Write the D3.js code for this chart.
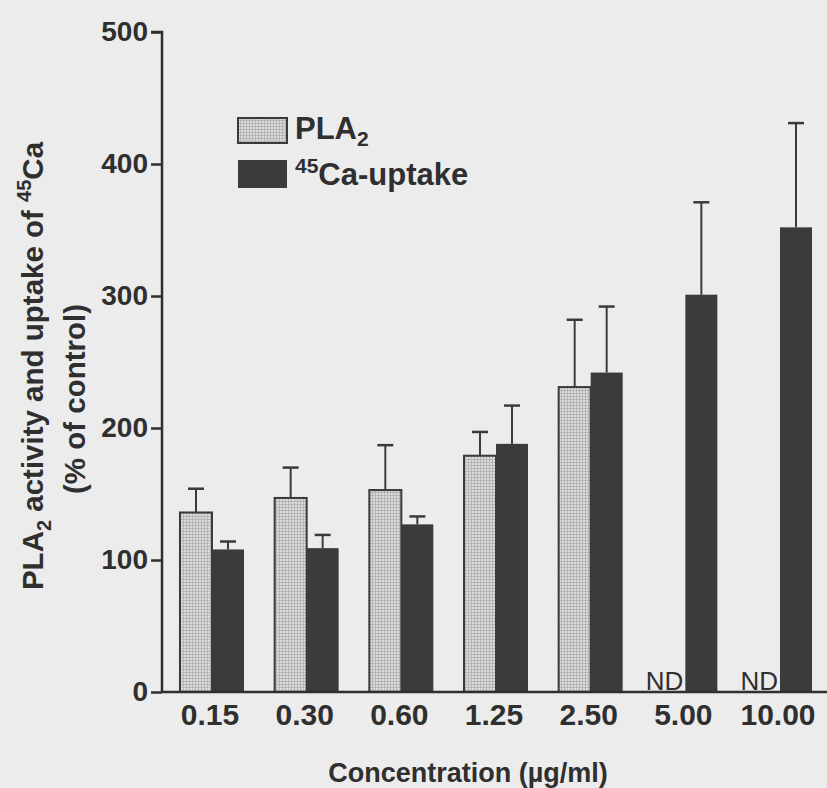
<!DOCTYPE html>
<html>
<head>
<meta charset="utf-8">
<script src="https://cdn.jsdelivr.net/npm/d3@7"></script>
<style>
  html, body { margin: 0; padding: 0; background: #ececec; }
  svg { display: block; }
  text { font-family: "Liberation Sans", Arial, Helvetica, sans-serif; fill: #2f2f2f; }
</style>
</head>
<body>
<svg id="chart" width="827" height="788"></svg>
<script>
// Concentrations (µg/ml) on the x axis
const concentrations = ["0.15", "0.30", "0.60", "1.25", "2.50", "5.00", "10.00"];
// PLA2 activity, % of control (null = not determined)
const pla2Values = [136, 147, 153, 179, 231, null, null];
const pla2Errors = [18, 23, 34, 18, 51, null, null];
// 45Ca uptake, % of control
const caValues = [108, 109, 127, 188, 242, 301, 352];
const caErrors = [6, 10, 6, 29, 50, 70, 79];
// y-axis ticks
const yTicks = [0, 100, 200, 300, 400, 500];

const svg = d3.select("#chart");
const ink = "#2f2f2f";

const defs = svg.append("defs");
const pat = defs.append("pattern")
  .attr("id", "grid").attr("patternUnits", "userSpaceOnUse")
  .attr("width", 3).attr("height", 3);
pat.append("rect").attr("width", 3).attr("height", 3).attr("fill", "#dcdcdc");
pat.append("rect").attr("width", 3).attr("height", 1).attr("fill", "#b4b4b4");
pat.append("rect").attr("width", 1).attr("height", 3).attr("fill", "#b4b4b4");

const x0 = 162, y0 = 692;
const x = d3.scaleBand().domain(concentrations).range([x0, 830])
  .paddingInner(0.324).paddingOuter(0.19);
const sub = d3.scaleBand().domain(["pla2", "ca"]).range([0, x.bandwidth()]);
const y = d3.scaleLinear().domain([0, 500]).range([y0, 32]);

const rows = concentrations.map((c, i) => ({
  c, pla2: pla2Values[i], pla2e: pla2Errors[i], ca: caValues[i], cae: caErrors[i]
}));

// Bars with upward error bars
const g = svg.append("g");
rows.forEach(r => {
  const gx = x(r.c);
  if (r.pla2 != null) {
    const cx = gx + sub("pla2") + sub.bandwidth() / 2;
    g.append("line").attr("x1", cx).attr("x2", cx)
      .attr("y1", y(r.pla2)).attr("y2", y(r.pla2 + r.pla2e))
      .attr("stroke", "#3a3a3a").attr("stroke-width", 2);
    g.append("line").attr("x1", cx - 8).attr("x2", cx + 8)
      .attr("y1", y(r.pla2 + r.pla2e)).attr("y2", y(r.pla2 + r.pla2e))
      .attr("stroke", "#3a3a3a").attr("stroke-width", 2.5);
    g.append("rect")
      .attr("x", gx + sub("pla2")).attr("y", y(r.pla2))
      .attr("width", sub.bandwidth()).attr("height", y0 - y(r.pla2))
      .attr("fill", "url(#grid)").attr("stroke", "#3a3a3a").attr("stroke-width", 2);
  } else {
    g.append("text")
      .attr("x", gx + sub("pla2") + sub.bandwidth() - 2).attr("y", y0 - 2)
      .attr("text-anchor", "end").attr("font-size", 26)
      .text("ND");
  }
  const cx2 = gx + sub("ca") + sub.bandwidth() / 2;
  g.append("line").attr("x1", cx2).attr("x2", cx2)
    .attr("y1", y(r.ca)).attr("y2", y(r.ca + r.cae))
    .attr("stroke", "#3a3a3a").attr("stroke-width", 2);
  g.append("line").attr("x1", cx2 - 8).attr("x2", cx2 + 8)
    .attr("y1", y(r.ca + r.cae)).attr("y2", y(r.ca + r.cae))
    .attr("stroke", "#3a3a3a").attr("stroke-width", 2.5);
  g.append("rect")
    .attr("x", gx + sub("ca")).attr("y", y(r.ca))
    .attr("width", sub.bandwidth()).attr("height", y0 - y(r.ca))
    .attr("fill", "#3b3b3b");
});

// Y axis
const yAxis = svg.append("g").attr("transform", `translate(${x0},0)`)
  .call(d3.axisLeft(y).tickValues(yTicks).tickSize(11).tickPadding(3).tickFormat(d3.format("d")));
yAxis.select(".domain").attr("stroke", ink).attr("stroke-width", 2.5)
  .attr("d", `M-11,${y(500)}H0V${y0}`);
yAxis.selectAll(".tick line").attr("stroke", ink).attr("stroke-width", 2.5);
yAxis.selectAll(".tick text").attr("font-size", 28).attr("font-weight", "bold")
  .attr("fill", ink).attr("font-family", "Liberation Sans, Arial, sans-serif");

// X axis
const xAxis = svg.append("g").attr("transform", `translate(0,${y0})`)
  .call(d3.axisBottom(x).tickSize(0).tickPadding(12));
xAxis.select(".domain").attr("stroke", ink).attr("stroke-width", 2.5)
  .attr("d", `M${x0},0H827`);
xAxis.selectAll(".tick text").attr("font-size", 30).attr("font-weight", "bold")
  .attr("fill", ink).attr("font-family", "Liberation Sans, Arial, sans-serif")
  .attr("dx", -2);

// Axis titles
svg.append("text").attr("x", 468).attr("y", 782)
  .attr("text-anchor", "middle").attr("font-size", 27).attr("font-weight", "bold")
  .text("Concentration (\u00b5g/ml)");

const yt1 = svg.append("text")
  .attr("transform", "translate(43,366) rotate(-90)")
  .attr("text-anchor", "middle").attr("font-size", 29.5).attr("font-weight", "bold");
yt1.append("tspan").text("PLA");
yt1.append("tspan").attr("font-size", 20).attr("dy", 8).text("2");
yt1.append("tspan").attr("dy", -8).text(" activity and uptake of ");
yt1.append("tspan").attr("font-size", 20).attr("dy", -12).text("45");
yt1.append("tspan").attr("dy", 12).text("Ca");

svg.append("text")
  .attr("transform", "translate(85,399) rotate(-90)")
  .attr("text-anchor", "middle").attr("font-size", 29.5).attr("font-weight", "bold")
  .text("(% of control)");

// Legend
const lg = svg.append("g");
lg.append("rect").attr("x", 238).attr("y", 118).attr("width", 49).attr("height", 25)
  .attr("fill", "url(#grid)").attr("stroke", "#3a3a3a").attr("stroke-width", 2);
lg.append("rect").attr("x", 238).attr("y", 160).attr("width", 49).attr("height", 28)
  .attr("fill", "#3b3b3b");
const l1 = lg.append("text").attr("x", 295).attr("y", 139)
  .attr("font-size", 31).attr("font-weight", "bold");
l1.append("tspan").text("PLA");
l1.append("tspan").attr("font-size", 21).attr("dy", 7).text("2");
const l2 = lg.append("text").attr("x", 295).attr("y", 185)
  .attr("font-size", 31).attr("font-weight", "bold");
l2.append("tspan").attr("font-size", 21).attr("dy", -12).text("45");
l2.append("tspan").attr("dy", 12).text("Ca-uptake");
</script>
</body>
</html>
